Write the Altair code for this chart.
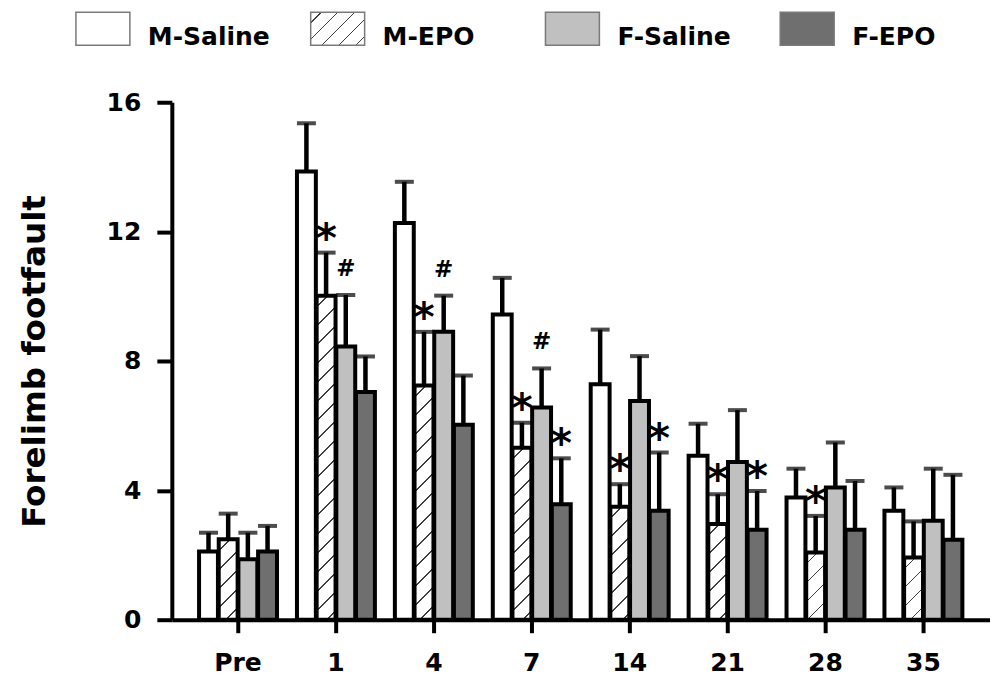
import altair as alt
import pandas as pd

# ---------------- data ----------------
times = ["Pre", "1", "4", "7", "14", "21", "28", "35"]
series = ["M-Saline", "M-EPO", "F-Saline", "F-EPO"]

m_saline = [2.11, 13.86, 12.27, 9.44, 7.28, 5.07, 3.78, 3.37]
m_epo = [2.49, 10.02, 7.24, 5.32, 3.49, 2.96, 2.08, 1.92]
f_saline = [1.87, 8.45, 8.90, 6.56, 6.76, 4.88, 4.09, 3.06]
f_epo = [2.11, 7.04, 6.03, 3.57, 3.37, 2.78, 2.78, 2.47]

m_saline_err = [0.58, 1.49, 1.27, 1.13, 1.69, 0.99, 0.89, 0.72]
m_epo_err = [0.79, 1.33, 1.66, 0.77, 0.70, 0.92, 1.13, 1.12]
f_saline_err = [0.82, 1.59, 1.12, 1.21, 1.39, 1.60, 1.39, 1.61]
f_epo_err = [0.79, 1.10, 1.52, 1.42, 1.80, 1.20, 1.51, 2.01]

m_saline_note = ["", "", "", "", "", "", "", ""]
m_epo_note = ["", "*", "*", "*", "*", "*", "*", ""]
f_saline_note = ["", "#", "#", "#", "", "", "", ""]
f_epo_note = ["", "", "", "*", "*", "*", "", ""]

# ---------------- styling ----------------
FONT = "DejaVu Sans"
PLOT_W = 818.6
PLOT_H = 518
Y_MAX = 16
PX_PER_UNIT = PLOT_H / Y_MAX
BAR_W = 19.0
colors = {"M-Saline": "#ffffff", "F-Saline": "#c0c0c0", "F-EPO": "#6f6f6f"}


def hatch(w, h, period=19.0, thick=1.7, ink="#3c3c3c"):
    """Linear gradient imitating '/' hatching for a box of w x h pixels."""
    L = w + h
    k = L / (w * w + h * h)
    stops = [{"offset": 0, "color": "#ffffff"}]
    s = period * 0.6
    while s < L - thick:
        a = max((s - thick / 2) / L, 0.0)
        b = min((s + thick / 2) / L, 1.0)
        stops += [
            {"offset": a, "color": "#ffffff"},
            {"offset": a, "color": ink},
            {"offset": b, "color": ink},
            {"offset": b, "color": "#ffffff"},
        ]
        s += period
    stops.append({"offset": 1, "color": "#ffffff"})
    return {"gradient": "linear", "x1": 0, "y1": 0, "x2": w * k, "y2": h * k, "stops": stops}


means = {"M-Saline": m_saline, "M-EPO": m_epo, "F-Saline": f_saline, "F-EPO": f_epo}
errs = {"M-Saline": m_saline_err, "M-EPO": m_epo_err, "F-Saline": f_saline_err, "F-EPO": f_epo_err}
notes = {"M-Saline": m_saline_note, "M-EPO": m_epo_note, "F-Saline": f_saline_note, "F-EPO": f_epo_note}

rows = []
for i, t in enumerate(times):
    for s in series:
        m = means[s][i]
        paint = hatch(BAR_W, m * PX_PER_UNIT) if s == "M-EPO" else colors[s]
        rows.append({"time": t, "series": s, "mean": m, "upper": m + errs[s][i],
                     "note": notes[s][i], "paint": paint})
df = pd.DataFrame(rows)

x_enc = alt.X("time:N", sort=times,
              scale=alt.Scale(paddingInner=0.204, paddingOuter=0.278),
              axis=alt.Axis(labelAngle=0, domainWidth=4, domainColor="black",
                            tickWidth=4, tickSize=13, tickColor="black",
                            labelFont=FONT, labelFontSize=25, labelFontWeight="bold",
                            labelColor="black", labelPadding=18),
              title=None)
xo_enc = alt.XOffset("series:N", sort=series,
                     scale=alt.Scale(domain=series, paddingInner=0.04, paddingOuter=0))
y_axis = alt.Axis(values=[0, 4, 8, 12, 16], grid=False, domainWidth=4, domainColor="black",
                  tickWidth=4, tickSize=15, tickColor="black",
                  labelFont=FONT, labelFontSize=25, labelFontWeight="bold", labelColor="black",
                  labelPadding=16, titleFont=FONT, titleFontSize=32.6, titleFontWeight="bold",
                  titleColor="black", titlePadding=55)
y_scale = alt.Scale(domain=[0, Y_MAX], nice=False, zero=True)
TITLE = "Forelimb footfault"

base = alt.Chart(df)

bars = base.mark_bar(stroke="black", strokeWidth=4).encode(
    x=x_enc, xOffset=xo_enc,
    y=alt.Y("mean:Q", scale=y_scale, axis=y_axis, title=TITLE),
    fill=alt.Fill("paint:N", scale=None),
)
err_lines = base.mark_rule(color="black", strokeWidth=4.5).encode(
    x=x_enc, xOffset=xo_enc,
    y=alt.Y("mean:Q", scale=y_scale, axis=y_axis, title=TITLE),
    y2="upper:Q",
)
caps = base.mark_tick(color="black", thickness=4, size=19, orient="horizontal").encode(
    x=x_enc, xOffset=xo_enc,
    y=alt.Y("upper:Q", scale=y_scale, axis=y_axis, title=TITLE),
)
stars = base.transform_filter(alt.datum.note == "*").mark_text(
    font=FONT, fontSize=41, fontWeight="bold", color="black", baseline="alphabetic", dy=-1
).encode(
    x=x_enc, xOffset=xo_enc,
    y=alt.Y("upper:Q", scale=y_scale, axis=y_axis, title=TITLE),
    text="note:N",
)
hashes = base.transform_filter(alt.datum.note == "#").mark_text(
    font=FONT, fontSize=23, fontWeight="bold", color="black", baseline="alphabetic", dy=-19
).encode(
    x=x_enc, xOffset=xo_enc,
    y=alt.Y("upper:Q", scale=y_scale, axis=y_axis, title=TITLE),
    text="note:N",
)

main = alt.layer(bars, err_lines, caps, stars, hashes).properties(width=PLOT_W, height=PLOT_H)

# ---------------- legend row ----------------
LEG_BOX_W, LEG_BOX_H = 54, 33
LEG_SHIFT = -69  # legend row starts left of the plot's y axis
legend_df = pd.DataFrame({
    "series": series,
    "paint": [colors["M-Saline"], hatch(LEG_BOX_W, LEG_BOX_H, period=17, thick=1.6),
              colors["F-Saline"], colors["F-EPO"]],
})
leg_x = alt.X("series:N", sort=series, scale=alt.Scale(type="point", padding=0), axis=None)
leg_boxes = alt.Chart(legend_df).mark_bar(
    width=LEG_BOX_W, stroke="#7a7a7a", strokeWidth=1.5, xOffset=LEG_SHIFT
).encode(x=leg_x, fill=alt.Fill("paint:N", scale=None))
leg_text = alt.Chart(legend_df).mark_text(
    align="left", baseline="middle", dx=45 + LEG_SHIFT, dy=8, font=FONT, fontSize=25,
    fontWeight="bold", color="black"
).encode(x=leg_x, text="series:N")
legend = alt.layer(leg_boxes, leg_text).properties(width=705, height=LEG_BOX_H)

chart = alt.vconcat(legend, main, spacing=40).properties(
    padding={"left": 10, "top": 3, "right": 0, "bottom": 0}
).configure_view(stroke=None)

chart.save("out.html", embed_options={"renderer": "svg", "actions": False})
